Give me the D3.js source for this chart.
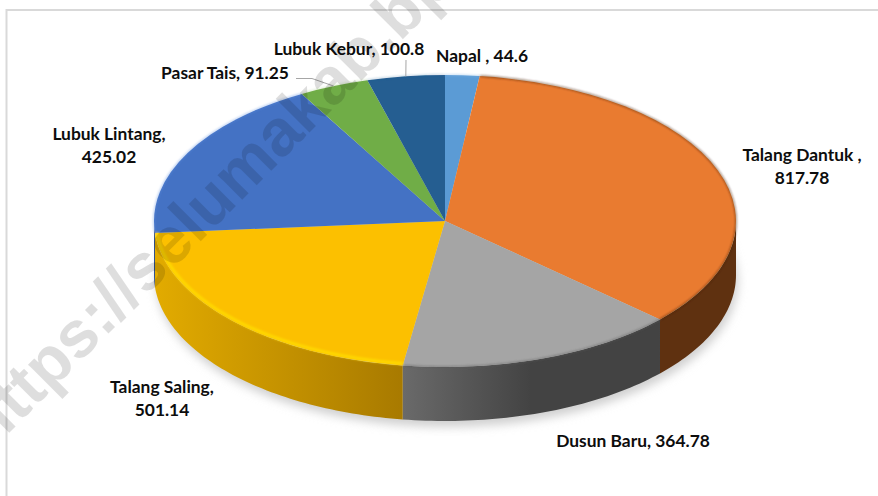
<!DOCTYPE html>
<html>
<head>
<meta charset="utf-8">
<script src="https://cdn.jsdelivr.net/npm/d3@7"></script>
<style>
    html, body { margin: 0; padding: 0; background: #fff; overflow: hidden; }
    svg { display: block; }
    .lbl { font-family: Lato, "Open Sans", sans-serif; font-weight: 700; font-size: 17.4px; fill: #0d0d0d; text-anchor: middle; }
</style>
</head>
<body>
<div id="the_chart"></div>
<script>
var categories = ["Napal ", "Talang Dantuk ", "Dusun Baru", "Talang Saling", "Lubuk Lintang", "Pasar Tais", "Lubuk Kebur"];
var values = [44.6, 817.78, 364.78, 501.14, 425.02, 91.25, 100.8];
var topColors = ["#5b9bd5", "#e97b30", "#a5a5a5", "#fcc000", "#4472c4", "#70ad47", "#255e91"];
// wall shading, left colour then right colour
var wallColors = [["#37638c", "#37638c"], ["#5f3110", "#5f3110"], ["#6a6a6a", "#434343"], ["#e2ab00", "#a87a00"], ["#2f4f8a", "#2f4f8a"], ["#4a7530", "#4a7530"], ["#173d5f", "#173d5f"]];

// label centre x, first baseline y, and whether the value goes on a second line
var labelX = [482, 802, 633, 162, 109, 225, 349];
var labelY = [62, 161, 447, 393, 140, 79, 55];
var labelWrap = [false, true, false, true, true, false, false];

var w = 878;
var h = 496;
var cx = 445;
var cy = 221;
var rx = 291;
var ry = 146;
var depth = 54;

var svg = d3.select("#the_chart")
    .append("svg")
    .attr("width", w)
    .attr("height", h);

var defs = svg.append("defs");
[["blur1", 1.2], ["blur5", 5]].forEach(function (b) {
    defs.append("filter").attr("id", b[0])
        .attr("x", "-10%").attr("y", "-10%").attr("width", "120%").attr("height", "120%")
        .append("feGaussianBlur").attr("stdDeviation", b[1]);
});

// frame, runs off the right and bottom of the picture
svg.append("rect")
    .attr("x", 6.5).attr("y", 10)
    .attr("width", w).attr("height", h)
    .attr("fill", "#fff")
    .attr("stroke", "#d9d9d9")
    .attr("stroke-width", 2);

var xscale = d3.scaleLinear().domain([-1, 1]).range([cx - rx, cx + rx]);
var yscale = d3.scaleLinear().domain([-1, 1]).range([cy - ry, cy + ry]);

function rimX(a) { return xscale(Math.sin(a)); }
function rimY(a) { return yscale(-Math.cos(a)); }

function sampleAngles(a0, a1) {
    var steps = Math.max(2, Math.ceil((a1 - a0) / 0.02));
    return d3.range(steps + 1).map(function (i) { return a0 + (a1 - a0) * i / steps; });
}

var pie = d3.pie().sort(null).value(function (d) { return d; });
var slices = pie(values);

var line = d3.line().x(function (d) { return d[0]; }).y(function (d) { return d[1]; });

// soft shadow under the whole pie
var shadowPts = sampleAngles(0, 2 * Math.PI).map(function (a) { return [rimX(a) + 2, rimY(a) + depth + 6]; });
svg.append("path")
    .attr("d", line(shadowPts) + "Z")
    .attr("fill", "#d0d0d0")
    .attr("filter", "url(#blur5)");

// front wall, only the part of each slice facing us
var walls = svg.append("g");
slices.forEach(function (s, i) {
    var a0 = Math.max(s.startAngle, Math.PI / 2);
    var a1 = Math.min(s.endAngle, 3 * Math.PI / 2);
    if (a1 <= a0) return;
    var angles = sampleAngles(a0, a1);
    var upper = angles.map(function (a) { return [rimX(a), rimY(a)]; });
    var lower = angles.slice().reverse().map(function (a) { return [rimX(a), rimY(a) + depth]; });

    var x0 = d3.min(upper, function (p) { return p[0]; });
    var x1 = d3.max(upper, function (p) { return p[0]; });
    var grad = defs.append("linearGradient")
        .attr("id", "wall" + i)
        .attr("gradientUnits", "userSpaceOnUse")
        .attr("x1", x0).attr("x2", i == 2 ? x0 + (x1 - x0) * 0.5 : x1)
        .attr("y1", 0).attr("y2", 0);
    grad.append("stop").attr("offset", 0).attr("stop-color", wallColors[i][0]);
    grad.append("stop").attr("offset", 1).attr("stop-color", wallColors[i][1]);

    walls.append("path")
        .attr("d", line(upper.concat(lower)) + "Z")
        .attr("fill", "url(#wall" + i + ")");
});

// top face
var arc = d3.arc().innerRadius(0).outerRadius(rx);
var top_g = svg.append("g")
    .attr("transform", "translate(" + cx + "," + cy + ") scale(1," + (ry / rx) + ")");
top_g.selectAll("path")
    .data(slices)
    .enter().append("path")
    .attr("d", arc)
    .attr("fill", function (d, i) { return topColors[i]; });

// bevel along the rim of the top face
var rimColors = ["#7db4e6", "#4a2408", "#5a5a5a", "#ffdc00", "#5b8de0", "#70ad47", "#255e91"];
var rimOpacity = [0.5, 0.6, 0.6, 0.9, 0.5, 0.3, 0.3];
var bevel = svg.append("g").attr("filter", "url(#blur1)");
slices.forEach(function (s, i) {
    var angles = sampleAngles(s.startAngle, s.endAngle);
    var inset = i == 3 ? 2 : 0;
    var pts = angles.map(function (a) {
        return [xscale(Math.sin(a) * (1 - inset / rx)), yscale(-Math.cos(a) * (1 - inset / ry))];
    });
    bevel.append("path")
        .attr("d", line(pts))
        .attr("fill", "none")
        .attr("stroke", rimColors[i])
        .attr("stroke-width", i == 3 ? 3 : 1.6)
        .attr("stroke-opacity", rimOpacity[i]);
});

// leader lines for the two small slices
function leader(i, pts) {
    var mid = (slices[i].startAngle + slices[i].endAngle) / 2;
    svg.append("path")
        .attr("d", line(pts.concat([[rimX(mid), rimY(mid)]])))
        .attr("fill", "none")
        .attr("stroke", "#a6a6a6")
        .attr("stroke-width", 1);
}
leader(5, [[296, 78.5], [312, 78.5]]);
leader(6, [[406, 60]]);

// labels
var labels = svg.selectAll("text.lbl")
    .data(categories)
    .enter().append("text")
    .attr("class", "lbl")
    .attr("x", function (d, i) { return labelX[i]; })
    .attr("y", function (d, i) { return labelY[i]; });
labels.each(function (d, i) {
    var t = d3.select(this);
    if (labelWrap[i]) {
        t.append("tspan").attr("x", labelX[i]).text(d + ",");
        t.append("tspan").attr("x", labelX[i]).attr("dy", 23).text(values[i]);
    } else {
        t.text(d + ", " + values[i]);
    }
});

// watermark over everything
svg.append("text")
    .attr("transform", "translate(-10,452) rotate(-45)")
    .attr("font-family", "'Liberation Sans', Arial, sans-serif")
    .attr("font-weight", 700)
    .attr("font-size", 66)
    .attr("fill", "#000")
    .attr("fill-opacity", 0.13)
    .text("https://selumakab.bp");
</script>
</body>
</html>
